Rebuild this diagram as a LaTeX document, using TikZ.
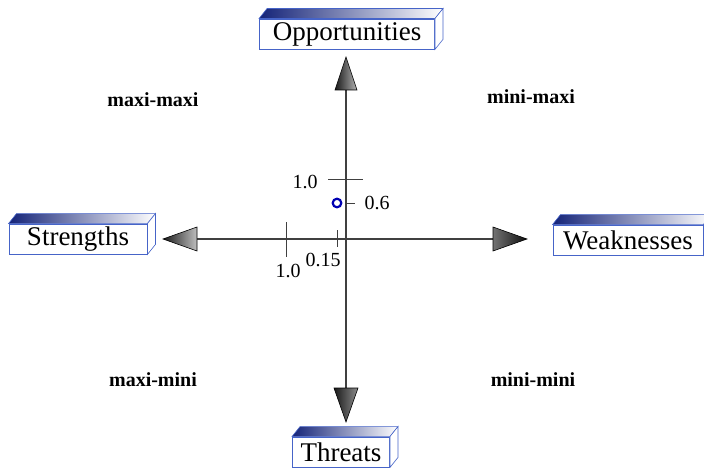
\documentclass[tikz,border=0pt]{standalone}
\usepackage{fontspec}
\setmainfont{Liberation Serif}
\usepackage{xcolor}
\usepackage{tikz}
\usetikzlibrary{positioning,calc}

\definecolor{boxblue}{RGB}{70,100,200}
\definecolor{navy}{RGB}{20,35,120}

\begin{document}
\begin{tikzpicture}[x=1pt,y=-1pt,
  face/.style={draw=boxblue, line width=0.9pt, fill=white, minimum height=30pt, inner xsep=4pt, inner ysep=1pt, font=\fontsize{27}{28}\selectfont},
  quad/.style={font=\fontsize{20}{22}\selectfont\bfseries},
  ticklabel/.style={font=\fontsize{20}{22}\selectfont},
  axis/.style={draw=black!75, line width=1.1pt},
  head/.style={draw=black, line width=0.6pt}]
  \useasboundingbox (0,0) rectangle (704,468);

  % Axes
  \coordinate (O) at (346,239);
  \coordinate (N) at (346,90);
  \coordinate (S) at (346,388);
  \coordinate (W) at (197,239);
  \coordinate (E) at (493,239);
  \draw[axis] (N) -- (S);
  \draw[axis] (W) -- (E);

  % Arrow heads
  \shade[head, left color=black!90, right color=black!30] (346,57) -- ($(N)+(11,0)$) -- ($(N)+(-11,0)$) -- cycle;
  \shade[head, left color=black!90, right color=black!45] (346,422) -- ($(S)+(12,0)$) -- ($(S)+(-12,0)$) -- cycle;
  \shade[head, left color=black!90, right color=black!25] (163,239) -- ($(W)+(0,-12)$) -- ($(W)+(0,12)$) -- cycle;
  \shade[head, left color=black!55, right color=black!95] (527,239) -- ($(E)+(0,-12)$) -- ($(E)+(0,12)$) -- cycle;

  % Boxes
  \node[face, minimum width=175pt] (opp) at (347,34) {Opportunities};
  \node[face, minimum width=138pt] (str) at (78,239) {Strengths};
  \node[face, minimum width=150pt] (wea) at (628,240) {Weaknesses};
  \node[face, minimum width=97pt] (thr) at (341,452) {Threats};
  \foreach \n in {opp,str,wea,thr} {
    \shade[draw=boxblue, line width=0.6pt, left color=navy, right color=white]
      (\n.north west) -- ++(8,-10) -- ($(\n.north east)+(8,-10)$) -- (\n.north east) -- cycle;
    \draw[boxblue, line width=0.6pt, fill=white]
      (\n.north east) -- ++(8,-10) -- ($(\n.south east)+(8,-10)$) -- (\n.south east) -- cycle;
  }

  % Quadrant labels
  \node[quad] (mm) at (153,100) {maxi-maxi};
  \node[quad] (nm) at (531,97) {mini-maxi};
  \node[quad] (mn) at (153,380) {maxi-mini};
  \node[quad] (nn) at (533,380) {mini-mini};

  % Ticks
  \draw[black!75, line width=0.9pt] (328,179) -- (363,179);
  \draw[black!75, line width=0.9pt] (286,222) -- (286,257);
  \draw[black!75, line width=0.9pt] (337,230) -- (337,247);
  \draw[black!75, line width=0.9pt] (346,203) -- (355,203);
  \node[ticklabel] (v1) at (305,182) {1.0};
  \node[ticklabel] (h1) at (288,271) {1.0};
  \node[ticklabel] (h2) at (323,260) {0.15};
  \node[ticklabel] (v2) at (377,203) {0.6};

  % Position
  \draw[blue!70!black, line width=2.2pt] (337,203) circle (4.3pt);
\end{tikzpicture}
\end{document}
